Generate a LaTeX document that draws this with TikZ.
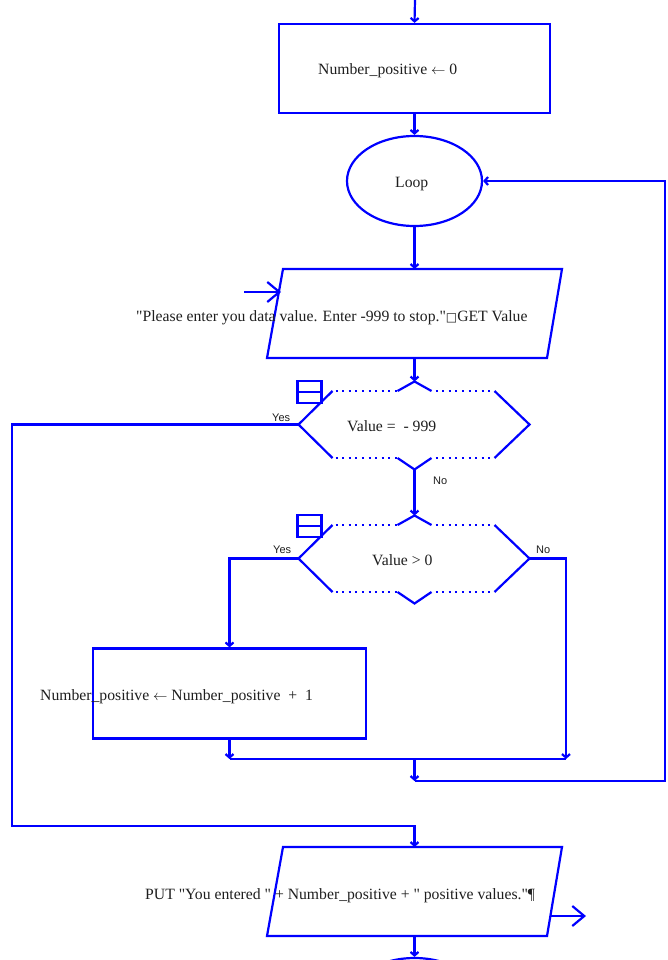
\documentclass[tikz,border=0pt]{standalone}
\usepackage{fontspec}
\setmainfont{Liberation Serif}[Ligatures=TeXOff]
\newfontfamily\lsans{Liberation Sans}
\newfontfamily\dvs{DejaVu Sans}
\usetikzlibrary{arrows.meta,shapes.geometric}
\definecolor{fcblue}{RGB}{0,0,255}
\definecolor{txtc}{RGB}{30,30,30}
\newcommand{\larr}{$\leftarrow$}
\begin{document}
\begin{tikzpicture}[x=1pt,y=-1pt,
  plain/.style={draw=fcblue, line width=2.2pt},
  conn/.style={plain, -{Straight Barb[length=3.5pt,width=8pt]}},
  bigarrow/.style={plain, -{Straight Barb[length=12pt,width=20pt]}},
  dotline/.style={plain, line width=1.8pt, dash pattern=on 2pt off 4.6pt},
  boxshape/.style={plain, rectangle, inner sep=0pt},
  ovalshape/.style={plain, ellipse, inner sep=0pt, minimum width=135pt, minimum height=90pt},
  txt/.style={font=\fontsize{15.7}{18}\selectfont, text=txtc, inner sep=0pt, anchor=base west},
  lbl/.style={font=\lsans\fontsize{11}{13}\selectfont, text=txtc, inner sep=0pt, anchor=base west},
  decpic/.pic={
    \draw[plain] (-82,-33.5) -- (-116,0) -- (-82,33.5);
    \draw[plain] (80,-33.5) -- (115,0) -- (80,33.5);
    \draw[plain] (-17,-33.5) -- (0,-43) -- (17,-33.5);
    \draw[plain] (-17,33.5) -- (0,45) -- (17,33.5);
    \draw[dotline] (-79,-33.5) -- (-18,-33.5);
    \draw[dotline] (21,-33.5) -- (80,-33.5);
    \draw[dotline] (-79,33.5) -- (-18,33.5);
    \draw[dotline] (21,33.5) -- (80,33.5);
    \draw[plain] (-117,-43.5) rectangle (-93,-21.5);
    \draw[plain] (-117,-32.5) -- (-93,-32.5);
    \coordinate (-top) at (0,-43);
    \coordinate (-bot) at (0,45);
    \coordinate (-left) at (-116,0);
    \coordinate (-right) at (115,0);
  }]
\useasboundingbox (0,0) rectangle (668,960);
\clip (0,0) rectangle (668,960);

% init box
\coordinate (start) at (415,0);
\node[boxshape, minimum width=271pt, minimum height=89pt] (init) at (414.5,68.5) {};
\node[txt] (tinit) at (318,75) {Number\_positive \larr{} 0};
\draw[conn] (start) -- (init.north);

% loop
\node[ovalshape] (loop) at (414.5,181) {};
\node[txt] (tloop) at (395,187) {Loop};
\draw[conn] (init.south) -- (loop.north);

% input parallelogram
\coordinate (p1tl) at (283,269);
\coordinate (p1tr) at (562,269);
\coordinate (p1br) at (547,358);
\coordinate (p1bl) at (267,358);
\coordinate (p1top) at (414.5,269);
\coordinate (p1bot) at (414.5,358);
\draw[plain] (p1bl) -- (p1tl) -- (p1tr) -- (p1br) -- cycle;
\node[txt] (tp1) at (136,321) {"Please enter you data value. Enter -999 to stop."{\dvs\fontsize{12}{13}\selectfont □}GET Value};
\coordinate (inA) at (244,292);
\coordinate (inB) at (281,292);
\draw[bigarrow] (inA) -- (inB);
\draw[conn] (loop.south) -- (p1top);

% decision 1
\pic (d1) at (414.5,424.5) {decpic};
\node[txt] (td1) at (347,431) {Value = \ - 999};
\node[lbl] (yes1) at (272,421) {Yes};
\node[lbl] (no1) at (433,484) {No};
\draw[conn] (p1bot) -- (d1-top);

% decision 2
\pic (d2) at (414.5,558.5) {decpic};
\node[txt] (td2) at (372,565) {Value > 0};
\node[lbl] (yes2) at (273,553) {Yes};
\node[lbl] (no2) at (536,553) {No};
\draw[conn] (d1-bot) -- (d2-top);

% increment box
\node[boxshape, minimum width=273pt, minimum height=90pt] (inc) at (229.5,693.5) {};
\node[txt] (tinc) at (40,700) {Number\_positive \larr{} Number\_positive \ + \ 1};
\draw[conn] (d2-left) -| (inc.north);

% merge
\coordinate (m1) at (229.5,759);
\coordinate (m2) at (566,759);
\coordinate (nA) at (566,558.5);
\coordinate (m3) at (414.5,759);
\coordinate (m4) at (414.5,781);
\coordinate (r1) at (665,781);
\coordinate (r2) at (665,181);
\draw[conn] (inc.south) -- (m1);
\draw[conn] (d2-right) -- (nA) -- (m2);
\draw[plain] (m1) -- (m2);
\draw[conn] (m3) -- (m4);
\draw[conn] (m4) -- (r1) -- (r2) -- (loop.east);

% output parallelogram
\coordinate (p2tl) at (283,847);
\coordinate (p2tr) at (562,847);
\coordinate (p2br) at (547,936);
\coordinate (p2bl) at (267,936);
\coordinate (p2top) at (414.5,847);
\coordinate (p2bot) at (414.5,936);
\draw[plain] (p2bl) -- (p2tl) -- (p2tr) -- (p2br) -- cycle;
\node[txt] (tp2) at (145,899) {PUT "You entered " + Number\_positive + " positive values."¶};
\coordinate (outA) at (550,916);
\coordinate (outB) at (586,916);
\draw[bigarrow] (outA) -- (outB);

% yes branch of decision 1
\coordinate (yA) at (12,424.5);
\coordinate (yB) at (12,826);
\coordinate (yC) at (414.5,826);
\draw[conn] (d1-left) -- (yA) -- (yB) -- (yC) -- (p2top);

% end
\node[ovalshape] (endn) at (414.5,1003) {};
\draw[conn] (p2bot) -- (endn.north);
\end{tikzpicture}
\end{document}
